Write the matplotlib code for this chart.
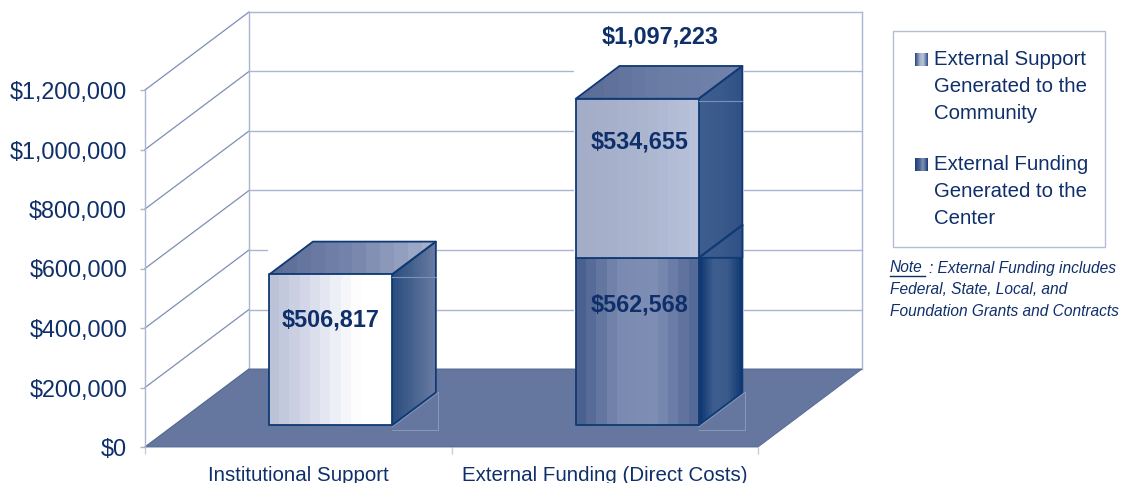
# 3D look stacked bar chart: institutional support vs external funding
import numpy as np
import matplotlib
matplotlib.use("Agg")
import matplotlib.pyplot as plt
from matplotlib.colors import LinearSegmentedColormap
from matplotlib.patches import Polygon, Rectangle
from matplotlib.ticker import FuncFormatter

plt.rcParams["font.family"] = ["Liberation Sans", "DejaVu Sans"]

# ------------------------------------------------------------
# Data
# ------------------------------------------------------------
categories = ["Institutional Support", "External Funding (Direct Costs)"]
center_funding = [0, 562568]
community_support = [0, 534655]
institutional = [506817, 0]
total_label = 1097223
y_ticks = [0, 200000, 400000, 600000, 800000, 1000000, 1200000]

legend_lines = [
    ["External Support", "Generated to the", "Community"],
    ["External Funding", "Generated to the", "Center"],
]
note_lines = [": External Funding includes", "Federal, State, Local, and",
              "Foundation Grants and Contracts"]

# ------------------------------------------------------------
# Style
# ------------------------------------------------------------
W, H = 1122, 483
NAVY = "#0f2f6b"
EDGE = "#0f3a73"
GRID = "#aab5d2"
FLOOR = "#65779f"

# depth of the floor, in data units of the front plane
DX = 104 / 306.5
DY = 78 / 357 * 1200000
BAR_W = 0.401
BAR_D0 = 0.28
BAR_D1 = 0.70
BAR_SHIFT = 0.011

FRONT_WHITE = ["#bcc3d9", "#d0d5e5", "#e9ecf4", "#ffffff", "#ffffff"]
SIDE_WHITE = ["#2a4d80", "#48648f", "#6a7ba3"]
TOP_WHITE = ["#5a6c97", "#7685ac", "#a4afcb"]
FRONT_UP = ["#a3adc8", "#aab4ce", "#b8c1d9"]
SIDE_UP = ["#3f5e90", "#3a5a8c", "#2f5186"]
TOP_UP = ["#5a6c97", "#6b7ca5", "#7183aa"]
FRONT_LOW = ["#4a608f", "#7a8ab0", "#7e8eb4", "#566a97"]
SIDE_LOW = ["#0c3570", "#3f5e90", "#3a5a8c", "#0e3671"]


def proj(x, v, d):
    return (x + d * DX, v + d * DY)


fig = plt.figure(figsize=(W / 100, H / 100), dpi=100)
ax = fig.add_axes([145 / W, 1 - 447 / H, 613 / W, 357 / H])
ax.set_facecolor("none")


def gradient_poly(pts, colors, z, bands=12):
    # horizontal banded gradient, clipped to a polygon
    cmap = LinearSegmentedColormap.from_list("g", colors)
    xs = [p[0] for p in pts]
    ys = [p[1] for p in pts]
    grad = np.linspace(0, 1, bands).reshape(1, -1)
    im = ax.imshow(grad, cmap=cmap, aspect="auto", zorder=z,
                   extent=[min(xs), max(xs), min(ys), max(ys)],
                   interpolation="nearest")
    im.set_clip_box(fig.bbox)
    im.set_clip_path(Polygon(pts, closed=True, transform=ax.transData))
    ax.add_patch(Polygon(pts, closed=True, fill=False, edgecolor=EDGE,
                         linewidth=1.3, zorder=z + 0.1, clip_on=False,
                         joinstyle="round"))


def draw_box(cx, v0, v1, front, side, top, z):
    x0 = cx - BAR_W / 2
    x1 = cx + BAR_W / 2
    f = [proj(x0, v0, BAR_D0), proj(x1, v0, BAR_D0),
         proj(x1, v1, BAR_D0), proj(x0, v1, BAR_D0)]
    s = [proj(x1, v0, BAR_D0), proj(x1, v0, BAR_D1),
         proj(x1, v1, BAR_D1), proj(x1, v1, BAR_D0)]
    t = [proj(x0, v1, BAR_D0), proj(x1, v1, BAR_D0),
         proj(x1, v1, BAR_D1), proj(x0, v1, BAR_D1)]
    gradient_poly(s, side, z, bands=30)
    gradient_poly(t, top, z)
    gradient_poly(f, front, z + 0.2)


# ------------------------------------------------------------
# Walls and grid
# ------------------------------------------------------------
for v in y_ticks:
    left_pt = proj(0, v, 0)
    back_l = proj(0, v, 1)
    back_r = proj(2, v, 1)
    ax.plot([left_pt[0], back_l[0]], [left_pt[1], back_l[1]],
            color="#7d8db5", lw=0.9, clip_on=False, zorder=1)
    ax.plot([back_l[0], back_r[0]], [back_l[1], back_r[1]],
            color=GRID, lw=1.0, clip_on=False, zorder=1)

wall_l_low = proj(0, 0, 1)
wall_l_top = proj(0, y_ticks[-1], 1)
wall_r_low = proj(2, 0, 1)
wall_r_top = proj(2, y_ticks[-1], 1)
ax.plot([wall_l_low[0], wall_l_top[0]], [wall_l_low[1], wall_l_top[1]],
        color=GRID, lw=1.0, clip_on=False, zorder=1)
ax.plot([wall_r_low[0], wall_r_top[0]], [wall_r_low[1], wall_r_top[1]],
        color=GRID, lw=1.0, clip_on=False, zorder=1)

# white halo the original bars leave on the grid lines
centers = [0.5 + BAR_SHIFT, 1.5 + BAR_SHIFT]
tops = [institutional[0], center_funding[1] + community_support[1]]
for cx, top in zip(centers, tops):
    a = proj(cx - BAR_W / 2 - 0.005, 0, BAR_D0)
    b = proj(cx + BAR_W / 2 + 0.005, top, BAR_D1)
    ax.add_patch(Rectangle((a[0], DY), b[0] - a[0], b[1] - DY + 3000,
                           facecolor="white", edgecolor="none",
                           clip_on=False, zorder=1.5))

floor = [proj(0, 0, 0), proj(2, 0, 0), proj(2, 0, 1), proj(0, 0, 1)]
ax.add_patch(Polygon(floor, closed=True, facecolor=FLOOR, edgecolor="#4f648f",
                     linewidth=0.6, clip_on=False, zorder=2))

# faint corner the bars leave on the floor
for cx in centers:
    right = proj(cx + BAR_W / 2, 0, BAR_D1)
    front = proj(cx + BAR_W / 2, 0, BAR_D0)
    low = proj(cx + BAR_W / 2, 0, BAR_D0 - 0.06)
    ax.plot([front[0], right[0] + 0.008, right[0] + 0.008],
            [low[1], low[1], right[1]],
            color="#8b99bb", lw=0.7, zorder=2.2, clip_on=False)
    s0 = proj(cx + BAR_W / 2, -6000, BAR_D0)
    ax.plot([s0[0], right[0] + 0.008], [s0[1], right[1]], color="#8b99bb",
            lw=0.7, zorder=2.2, clip_on=False)

# ------------------------------------------------------------
# Bars
# ------------------------------------------------------------
draw_box(centers[0], 0, institutional[0], FRONT_WHITE, SIDE_WHITE, TOP_WHITE, 3)
draw_box(centers[1], 0, center_funding[1], FRONT_LOW, SIDE_LOW, TOP_UP, 3)
draw_box(centers[1], center_funding[1], tops[1], FRONT_UP, SIDE_UP, TOP_UP, 4)

# lower part of the top segment's side runs down to the front edge height
r0 = proj(centers[1] + BAR_W / 2, center_funding[1], BAR_D0)
r1 = proj(centers[1] + BAR_W / 2, center_funding[1], BAR_D1)
gradient_poly([r0, r1, (r1[0], r0[1])], SIDE_UP, 3.6, bands=30)
ax.plot([r0[0], r1[0]], [r0[1], r1[1]], color=EDGE, lw=1.3, zorder=5,
        clip_on=False)

# light seam on the side faces below the top edge
for cx, top in zip(centers, tops):
    a = proj(cx + BAR_W / 2, top - 9000, BAR_D0)
    ax.plot([a[0], a[0] + (BAR_D1 - BAR_D0) * DX], [a[1], a[1]],
            color="#7f90b6", lw=0.8, zorder=5, clip_on=False)

# value labels
label_font = dict(color=NAVY, fontsize=16.8, fontweight="bold", ha="center",
                  va="center", zorder=8, annotation_clip=False)
segments = [
    (centers[0], 0, institutional[0], 30, 0),
    (centers[1], 0, center_funding[1], 36, 1.5),
    (centers[1], center_funding[1], tops[1], 36, 1.5),
]
for cx, v0, v1, lift, nudge in segments:
    pos = proj(cx, (v0 + v1) / 2, BAR_D0)
    ax.annotate("${:,}".format(v1 - v0), xy=pos, xytext=(nudge, lift * 0.72),
                textcoords="offset points", **label_font)
pos = proj(centers[1], tops[1], BAR_D1)
ax.annotate("${:,}".format(total_label), xy=pos, xytext=(-15, 21),
            textcoords="offset points", **label_font)

# ------------------------------------------------------------
# Axes
# ------------------------------------------------------------
ax.set_xlim(0, 2)
ax.set_ylim(0, 1200000)
for name in ["top", "right", "bottom"]:
    ax.spines[name].set_visible(False)
ax.spines["left"].set_color(GRID)
ax.spines["left"].set_linewidth(1.0)

ax.set_yticks(y_ticks)
ax.yaxis.set_major_formatter(FuncFormatter(lambda v, p: "${:,.0f}".format(v)))
ax.tick_params(axis="y", labelsize=16.8, labelcolor=NAVY, color=GRID,
               length=3.6, width=1.0, pad=9.2)
ax.set_xticks([0, 1, 2])
ax.set_xticklabels(["", "", ""])
ax.tick_params(axis="x", which="major", color="#c5cde0", length=5, width=1.0)
ax.set_xticks([0.5, 1.5], minor=True)
ax.set_xticklabels(categories, minor=True)
ax.tick_params(axis="x", which="minor", length=0, labelsize=14.8,
               labelcolor=NAVY, pad=13.5)

# ------------------------------------------------------------
# Legend and note, laid out in pixels
# ------------------------------------------------------------
ov = fig.add_axes([0, 0, 1, 1])
ov.axis("off")
ov.patch.set_alpha(0)

ov.add_patch(Rectangle((893, 31), 212, 216, facecolor="white",
                       edgecolor="#b4bdd6", linewidth=1.0, zorder=1))

swatch_y = [53, 158]
swatch_colors = [["#2f4f85", "#a3adc8", "#b8c1d9", "#3a5a8c"],
                 ["#1f417a", "#4f6594", "#7e8eb4", "#1f417a"]]
for sy, cols, lines in zip(swatch_y, swatch_colors, legend_lines):
    cmap = LinearSegmentedColormap.from_list("s", cols)
    ov.imshow(np.linspace(0, 1, 14).reshape(1, -1), cmap=cmap, aspect="auto",
              extent=[915, 928, sy + 13, sy], interpolation="nearest", zorder=3)
    for i, line in enumerate(lines):
        ov.text(934, sy + 6.5 + i * 27, line, color=NAVY, fontsize=14.7,
                ha="left", va="center", zorder=3)
ov.set_xlim(0, W)
ov.set_ylim(H, 0)

note_font = dict(color=NAVY, fontsize=11.2, style="italic", ha="left",
                 va="center")
ov.text(890, 268, "Note", **note_font)
ov.plot([890, 925], [276, 276], color=NAVY, lw=1.0)
ov.text(929, 268, note_lines[0], **note_font)
ov.text(890, 290, note_lines[1], **note_font)
ov.text(890, 311, note_lines[2], **note_font)

fig.savefig("out.png", dpi=100, facecolor="white")
